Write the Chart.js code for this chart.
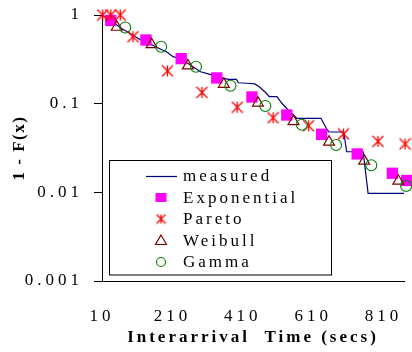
<!DOCTYPE html>
<html><head><meta charset="utf-8">
<script src="https://cdn.jsdelivr.net/npm/chart.js@4/dist/chart.umd.min.js"></script>
<style>html,body{margin:0;padding:0;background:#fff}#wrap{width:412px;height:352px}</style>
</head><body><div id="wrap"><canvas id="c" width="412" height="352"></canvas></div>
<script>
const xTickValues = [10, 210, 410, 610, 810];
const yTickValues = [0.001, 0.01, 0.1, 1];

const measuredX = [10, 35, 64, 82, 120, 143, 171, 193, 212, 226, 248, 290, 317, 345, 369, 392, 397, 421, 444, 457, 477, 485, 507, 521, 539, 563, 632, 650, 655, 697, 705, 752, 766, 868];
const measuredY = [1, 0.878, 0.708, 0.648, 0.522, 0.480, 0.421, 0.386, 0.339, 0.325, 0.295, 0.229, 0.214, 0.198, 0.188, 0.188, 0.172, 0.170, 0.167, 0.155, 0.131, 0.120, 0.120, 0.101, 0.0848, 0.0684, 0.0684, 0.0505, 0.0479, 0.0479, 0.0287, 0.0287, 0.00975, 0.00975];

const expX = [35, 135, 235, 336, 436, 535, 634, 735, 835, 876];
const expY = [0.867, 0.522, 0.322, 0.195, 0.119, 0.0745, 0.0451, 0.0271, 0.0164, 0.0136];

const parX = [12, 35, 62, 98, 196, 294, 394, 496, 597, 696, 794, 871];
const parY = [1, 1, 1, 0.569, 0.234, 0.134, 0.0912, 0.0693, 0.0563, 0.0455, 0.0376, 0.0351];

const weiX = [52, 151, 254, 356, 453, 554, 655, 755, 852];
const weiY = [0.73, 0.465, 0.268, 0.166, 0.102, 0.063, 0.037, 0.0226, 0.0134];

const gamX = [76, 178, 277, 375, 474, 578, 675, 775, 874];
const gamY = [0.723, 0.439, 0.261, 0.159, 0.0941, 0.0579, 0.0342, 0.0202, 0.0118];

const seriesLabels = ['measured', 'Exponential', 'Pareto', 'Weibull', 'Gamma'];

const pts = (xs, ys) => xs.map((x, i) => ({x, y: ys[i]}));

function makeStar(size, color) {
  const c = document.createElement('canvas');
  c.width = size; c.height = size;
  const g = c.getContext('2d');
  g.strokeStyle = color; g.lineWidth = 1.3;
  const m = size / 2, r = size / 2 - 1;
  g.beginPath();
  g.moveTo(m, m - r); g.lineTo(m, m + r);
  g.moveTo(m - r, m - r); g.lineTo(m + r, m + r);
  g.moveTo(m - r, m + r); g.lineTo(m + r, m - r);
  g.stroke();
  return c;
}
const starImg = makeStar(13, '#ff0000');
const starLegend = makeStar(11, '#ff0000');

const FONT = "'Liberation Serif', 'Times New Roman', serif";
Chart.defaults.font.family = FONT;
Chart.defaults.font.size = 17;
Chart.defaults.color = '#000';

function wrapSpacing(scale, labSp, titSp) {
  if (scale._spWrapped) return;
  const dl = scale.drawLabels, dt = scale.drawTitle;
  scale.drawLabels = function (a) {
    const ctx = this.ctx, p = ctx.letterSpacing;
    ctx.letterSpacing = labSp; dl.call(this, a); ctx.letterSpacing = p;
  };
  scale.drawTitle = function (a) {
    const ctx = this.ctx, p = ctx.letterSpacing;
    ctx.letterSpacing = titSp; dt.call(this, a); ctx.letterSpacing = p;
  };
  scale._spWrapped = true;
}

const spacingPlugin = {
  id: 'spacing',
  beforeDraw(chart) {
    wrapSpacing(chart.scales.x, '4px', '3px');
    wrapSpacing(chart.scales.y, '4px', '1.5px');
  }
};

const legendPlugin = {
  id: 'boxLegend',
  afterDraw(chart) {
    const ctx = chart.ctx;
    ctx.save();
    ctx.fillStyle = '#fff';
    ctx.fillRect(110, 161, 221, 114);
    ctx.strokeStyle = '#000'; ctx.lineWidth = 1;
    ctx.strokeRect(109.5, 160.5, 222, 114.5);
    const rows = [176, 197.5, 219, 240.5, 262];
    const mx = 161;
    ctx.font = "17px " + FONT;
    ctx.letterSpacing = '3px';
    ctx.textBaseline = 'middle';
    ctx.textAlign = 'left';
    chart.data.datasets.forEach((ds, i) => {
      const y = rows[i];
      ctx.save();
      if (i === 0) {
        ctx.strokeStyle = ds.borderColor; ctx.lineWidth = 1.2;
        ctx.beginPath(); ctx.moveTo(146, y + 0.5); ctx.lineTo(177, y + 0.5); ctx.stroke();
      } else if (i === 1) {
        ctx.fillStyle = ds.backgroundColor; ctx.fillRect(mx - 5.5, y - 4.5, 11, 9);
      } else if (i === 2) {
        ctx.drawImage(starLegend, mx - 5.5, y - 5.5);
      } else if (i === 3) {
        ctx.strokeStyle = ds.borderColor; ctx.lineWidth = 1.2;
        ctx.beginPath(); ctx.moveTo(mx, y - 5.5); ctx.lineTo(mx + 5.5, y + 4); ctx.lineTo(mx - 5.5, y + 4); ctx.closePath(); ctx.stroke();
      } else {
        ctx.strokeStyle = ds.borderColor; ctx.lineWidth = 1.1;
        ctx.beginPath(); ctx.arc(mx, y, 4.5, 0, Math.PI * 2); ctx.stroke();
      }
      ctx.restore();
      ctx.fillStyle = '#000';
      ctx.fillText(ds.label, 183, y + 1);
    });
    ctx.restore();
  }
};

new Chart(document.getElementById('c'), {
  type: 'line',
  data: {
    datasets: [
      {label: seriesLabels[0], data: pts(measuredX, measuredY), borderColor: '#000080', borderWidth: 1.2, pointRadius: 0, tension: 0, fill: false, order: 5},
      {label: seriesLabels[1], data: pts(expX, expY), showLine: false, pointStyle: 'rect', pointRadius: 8, backgroundColor: '#ff00ff', borderColor: '#ff00ff', borderWidth: 0, clip: false, order: 4},
      {label: seriesLabels[2], data: pts(parX, parY), showLine: false, pointStyle: starImg, pointRadius: 6, borderColor: '#ff0000', backgroundColor: '#ff0000', clip: false, order: 3},
      {label: seriesLabels[3], data: pts(weiX, weiY), showLine: false, pointStyle: 'triangle', pointRadius: 6.3, backgroundColor: 'rgba(0,0,0,0)', borderColor: '#800000', borderWidth: 1.2, clip: false, order: 2},
      {label: seriesLabels[4], data: pts(gamX, gamY), showLine: false, pointStyle: 'circle', pointRadius: 5.5, backgroundColor: 'rgba(0,0,0,0)', borderColor: '#008000', borderWidth: 1.1, clip: false, order: 1}
    ]
  },
  options: {
    responsive: false,
    animation: false,
    devicePixelRatio: 1,
    layout: {padding: {top: 15, right: 0, bottom: 0, left: 0}},
    plugins: {legend: {display: false}, tooltip: {enabled: false}},
    scales: {
      x: {
        type: 'linear',
        min: 10, max: 868,
        afterBuildTicks: s => { s.ticks = xTickValues.map(v => ({value: v})); },
        afterFit: s => { s.height = 71; s.paddingLeft = 0; s.paddingRight = 0; },
        ticks: {callback: v => String(v), padding: 25, maxRotation: 0, autoSkip: false, font: {size: 17}},
        grid: {display: false, drawTicks: false},
        border: {display: true, color: '#000', width: 1},
        title: {display: true, text: 'Interarrival  Time (secs)', font: {size: 17, weight: 'bold'}, padding: {top: 0, bottom: 4}}
      },
      y: {
        type: 'logarithmic',
        min: 0.001, max: 1,
        afterBuildTicks: s => { s.ticks = yTickValues.map(v => ({value: v})); },
        afterFit: s => { s.width = 102; s.paddingTop = 0; s.paddingBottom = 0; },
        ticks: {callback: v => String(v), padding: 11, autoSkip: false, font: {size: 17}},
        grid: {drawOnChartArea: false, drawTicks: true, tickLength: 8, color: '#000', lineWidth: 1},
        border: {display: true, color: '#000', width: 1},
        title: {display: true, text: '1 - F(x)', font: {size: 17, weight: 'bold'}, padding: {top: 9, bottom: 0}}
      }
    }
  },
  plugins: [spacingPlugin, legendPlugin]
});
</script>
</body></html>
